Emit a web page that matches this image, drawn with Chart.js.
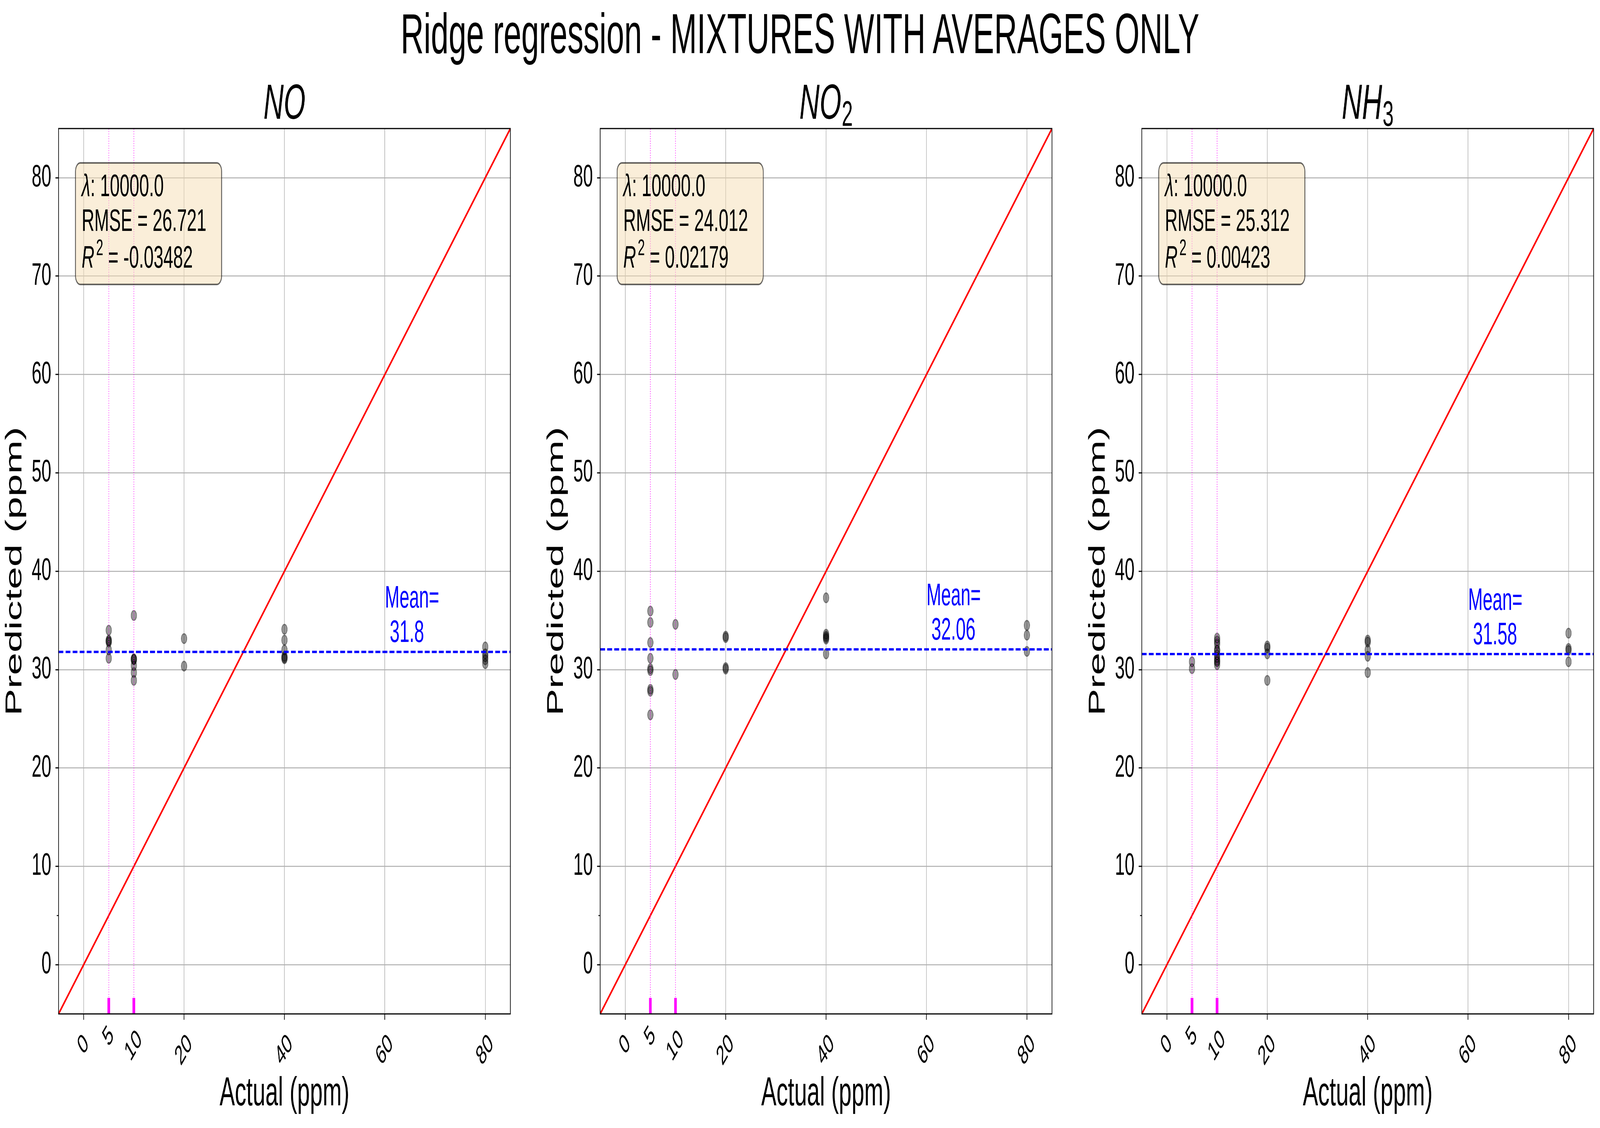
<!DOCTYPE html>
<html>
<head>
<meta charset="utf-8">
<script src="https://cdn.jsdelivr.net/npm/chart.js@4.4.1/dist/chart.umd.min.js"></script>
<style>
  html, body { margin: 0; padding: 0; background: #fff; overflow: hidden; }
  #page {
    position: relative; width: 7270px; height: 2887px; overflow: hidden; background: #fff;
    transform-origin: 0 0;
  }
  #suptitle {
    position: absolute; left: 0; top: 14px; width: 7270px; text-align: center;
    font: 145px/1 "Liberation Sans", Arial, sans-serif; color: #000; white-space: nowrap;
  }
  canvas { position: absolute; top: 0; }
</style>
</head>
<body>
<div id="page">
  <div id="suptitle">Ridge regression - MIXTURES WITH AVERAGES ONLY</div>
  <canvas id="c0" width="2461" height="2887" style="left:0px"></canvas>
  <canvas id="c1" width="2461" height="2887" style="left:2461px"></canvas>
  <canvas id="c2" width="2348" height="2887" style="left:4922px"></canvas>
</div>
<script>
const FONT = '"Liberation Sans", Arial, sans-serif';
const PAGE_W = 7270;
const PAGE_H = 2887;

// panel titles (base + subscript)
const gasNames = ["NO", "NO", "NH"];
const gasSubs = ["", "2", "3"];

// stats shown in the box
const lambdaLabels = ["10000.0", "10000.0", "10000.0"];
const rmseLabels = ["26.721", "24.012", "25.312"];
const r2Labels = ["-0.03482", "0.02179", "0.00423"];
const meanValues = [31.8, 32.06, 31.58];
const meanLabels = ["31.8", "32.06", "31.58"];

// axes
const axisMin = -5;
const axisMax = 85;
const xGridTicks = [0, 20, 40, 60, 80];
const xTickLabels = [0, 5, 10, 20, 40, 60, 80];
const xMarked = [5, 10];
const yTicks = [0, 10, 20, 30, 40, 50, 60, 70, 80];
const yMinorTicks = [5];
const meanTextX = 60;

// NO
const noActual = [5, 5, 5, 5, 5, 5, 10, 10, 10, 10, 10, 10, 10, 20, 20, 40, 40, 40, 40, 40, 40, 80, 80, 80, 80, 80];
const noPredicted = [34.0, 33.0, 32.9, 32.8, 32.0, 31.15, 35.5, 31.1, 31.05, 31.0, 30.4, 29.7, 28.9, 33.15, 30.35, 34.1, 33.0, 32.0, 31.35, 31.2, 31.1, 32.3, 31.6, 31.3, 31.0, 30.6];

// NO2
const no2Actual = [5, 5, 5, 5, 5, 5, 5, 5, 5, 10, 10, 20, 20, 20, 20, 40, 40, 40, 40, 40, 40, 80, 80, 80];
const no2Predicted = [35.95, 34.8, 32.75, 31.15, 30.1, 29.9, 28.0, 27.8, 25.4, 34.6, 29.5, 33.4, 33.25, 30.2, 30.05, 37.3, 33.6, 33.4, 33.25, 33.1, 31.6, 34.5, 33.5, 31.85];

// NH3
const nh3Actual = [5, 5, 10, 10, 10, 10, 10, 10, 10, 10, 10, 10, 20, 20, 20, 20, 40, 40, 40, 40, 40, 80, 80, 80, 80];
const nh3Predicted = [30.8, 30.1, 33.2, 32.9, 32.6, 32.0, 31.9, 31.5, 31.2, 30.9, 30.8, 30.5, 32.4, 32.2, 31.6, 28.9, 33.0, 32.8, 32.0, 31.35, 29.7, 33.7, 32.15, 31.95, 30.8];

const actualSets = [noActual, no2Actual, nh3Actual];
const predictedSets = [noPredicted, no2Predicted, nh3Predicted];

// the window we get may be smaller than 7270x2887: stretch the layout to fill it
function fitPage() {
  const sx = window.innerWidth / PAGE_W;
  const sy = window.innerHeight / PAGE_H;
  document.getElementById("page").style.transform = `scale(${sx}, ${sy})`;
  document.body.style.width = `${window.innerWidth}px`;
  document.body.style.height = `${window.innerHeight}px`;
}
fitPage();

Chart.defaults.font.family = FONT;
Chart.defaults.color = "#000";

function roundRect(ctx, x, y, w, h, r) {
  ctx.beginPath();
  ctx.moveTo(x + r, y);
  ctx.lineTo(x + w - r, y);
  ctx.arcTo(x + w, y, x + w, y + r, r);
  ctx.lineTo(x + w, y + h - r);
  ctx.arcTo(x + w, y + h, x + w - r, y + h, r);
  ctx.lineTo(x + r, y + h);
  ctx.arcTo(x, y + h, x, y + h - r, r);
  ctx.lineTo(x, y + r);
  ctx.arcTo(x, y, x + r, y, r);
  ctx.closePath();
}

// how far below the axis each rotated label starts
function labelDrop(v) {
  if (v === 5) return 23;
  if (v === 10) return 33;
  return 44;
}

const panelDecor = {
  id: "panelDecor",
  afterDatasetsDraw(chart, args, opts) {
    const i = opts.index;
    const { ctx, chartArea: a, scales: { x, y } } = chart;
    ctx.save();

    // magenta marks at the bottom
    ctx.strokeStyle = "#ff00ff";
    ctx.lineWidth = 12;
    xMarked.forEach((v) => {
      const px = x.getPixelForValue(v);
      ctx.beginPath();
      ctx.moveTo(px, a.bottom);
      ctx.lineTo(px, a.bottom - 41);
      ctx.stroke();
    });

    // mean label
    const mx = x.getPixelForValue(meanTextX);
    const my = y.getPixelForValue(meanValues[i]);
    ctx.fillStyle = "#0000ff";
    ctx.font = `80px ${FONT}`;
    ctx.textAlign = "left";
    ctx.textBaseline = "alphabetic";
    ctx.fillText("Mean=", mx, my - 113);
    ctx.fillText(" " + meanLabels[i], mx, my - 25);

    // stats box
    roundRect(ctx, a.left + 77, a.top + 88, 664, 311, 22);
    ctx.fillStyle = "rgba(245,222,179,0.5)";
    ctx.fill();
    ctx.lineWidth = 4;
    ctx.strokeStyle = "rgba(0,0,0,0.6)";
    ctx.stroke();

    const tx = a.left + 105;
    ctx.fillStyle = "#000";
    ctx.font = `italic 80px ${FONT}`;
    ctx.fillText("\u03bb", tx, a.top + 173);
    let w = ctx.measureText("\u03bb").width;
    ctx.font = `80px ${FONT}`;
    ctx.fillText(": " + lambdaLabels[i], tx + w, a.top + 173);
    ctx.fillText("RMSE = " + rmseLabels[i], tx, a.top + 262);
    ctx.font = `italic 80px ${FONT}`;
    ctx.fillText("R", tx, a.top + 356);
    w = ctx.measureText("R").width + 8;
    ctx.font = `58px ${FONT}`;
    ctx.fillText("2", tx + w, a.top + 324);
    w += ctx.measureText("2").width;
    ctx.font = `80px ${FONT}`;
    ctx.fillText(" = " + r2Labels[i], tx + w, a.top + 356);
    ctx.restore();
  },
  afterDraw(chart, args, opts) {
    const i = opts.index;
    const { ctx, chartArea: a, scales: { x, y } } = chart;
    ctx.save();

    // spines
    ctx.strokeStyle = "#000";
    ctx.lineWidth = 3;
    ctx.strokeRect(a.left, a.top, a.right - a.left, a.bottom - a.top);

    // y minor tick
    ctx.lineWidth = 2.5;
    yMinorTicks.forEach((v) => {
      const py = y.getPixelForValue(v);
      ctx.beginPath();
      ctx.moveTo(a.left - 8, py);
      ctx.lineTo(a.left, py);
      ctx.stroke();
    });

    // rotated x tick labels
    ctx.fillStyle = "#000";
    ctx.font = `70px ${FONT}`;
    ctx.textAlign = "center";
    ctx.textBaseline = "alphabetic";
    const h = 0.716 * 70;
    xTickLabels.forEach((v) => {
      const label = String(v);
      const lw = ctx.measureText(label).width;
      const half = (lw + h) * 0.7071 / 2;
      const top = a.bottom + labelDrop(v);
      const px = x.getPixelForValue(v) - 5;
      ctx.save();
      ctx.translate(px, top + half);
      ctx.rotate(-Math.PI / 4);
      ctx.fillText(label, 0, h / 2);
      ctx.restore();
    });

    // panel title
    ctx.textAlign = "left";
    ctx.font = `italic 127px ${FONT}`;
    const wMain = ctx.measureText(gasNames[i]).width;
    ctx.font = `90px ${FONT}`;
    const wSub = gasSubs[i] ? ctx.measureText(gasSubs[i]).width + 2 : 0;
    const sx = (a.left + a.right) / 2 - (wMain + wSub) / 2;
    ctx.font = `italic 127px ${FONT}`;
    ctx.fillText(gasNames[i], sx, 304);
    if (gasSubs[i]) {
      ctx.font = `90px ${FONT}`;
      ctx.fillText(gasSubs[i], sx + wMain + 2, 322);
    }
    ctx.restore();
  },
};

function lineSet(points, color, width, dash) {
  return {
    data: points,
    showLine: true,
    borderColor: color,
    borderWidth: width,
    borderDash: dash,
    pointRadius: 0,
    fill: false,
    tension: 0,
  };
}

function makePanel(i) {
  const canvas = document.getElementById("c" + i);
  const padRight = canvas.width - 266 - 2053;
  const points = actualSets[i].map((v, k) => ({ x: v, y: predictedSets[i][k] }));
  const datasets = [
    ...xMarked.map((v) => lineSet([{ x: v, y: axisMin }, { x: v, y: axisMax }], "#ff00ff", 2.3, [2.3, 3.8])),
    lineSet([{ x: axisMin, y: meanValues[i] }, { x: axisMax, y: meanValues[i] }], "#0000ff", 6, [22, 10]),
    lineSet([{ x: axisMin, y: axisMin }, { x: axisMax, y: axisMax }], "#ff0000", 6, []),
    {
      data: points,
      pointRadius: 12.5,
      pointBorderWidth: 3,
      pointBackgroundColor: "rgba(0,0,0,0.4)",
      pointBorderColor: "rgba(0,0,0,0.4)",
      showLine: false,
    },
  ];

  new Chart(canvas, {
    type: "scatter",
    data: { datasets },
    plugins: [panelDecor],
    options: {
      responsive: false,
      animation: false,
      devicePixelRatio: 1,
      events: [],
      layout: { padding: { top: 329, right: padRight, bottom: 0, left: 0 } },
      plugins: {
        legend: { display: false },
        tooltip: { enabled: false },
        panelDecor: { index: i },
      },
      scales: {
        x: {
          type: "linear",
          min: axisMin,
          max: axisMax,
          afterBuildTicks: (s) => { s.ticks = xGridTicks.map((v) => ({ value: v })); },
          afterFit: (s) => { s.height = 292; },
          grid: { color: "#b0b0b0", lineWidth: 2.5, drawTicks: true, tickLength: 15, tickColor: "#000", tickWidth: 3 },
          border: { display: false },
          ticks: { display: false },
          title: {
            display: true,
            text: "Actual (ppm)",
            color: "#000",
            font: { size: 104, family: FONT },
            padding: { top: 0, bottom: 24 },
          },
        },
        y: {
          type: "linear",
          min: axisMin,
          max: axisMax,
          afterBuildTicks: (s) => { s.ticks = yTicks.map((v) => ({ value: v })); },
          afterFit: (s) => { s.width = 266; },
          grid: { color: "#b0b0b0", lineWidth: 2.5, drawTicks: true, tickLength: 14, tickColor: "#000", tickWidth: 3 },
          border: { display: false },
          ticks: { color: "#000", font: { size: 80, family: FONT }, padding: 19 },
          title: {
            display: true,
            text: "Predicted (ppm)",
            color: "#000",
            font: { size: 104, family: FONT },
            padding: { top: 6, bottom: 0 },
          },
        },
      },
    },
  });
}

[0, 1, 2].forEach(makePanel);
</script>
</body>
</html>
